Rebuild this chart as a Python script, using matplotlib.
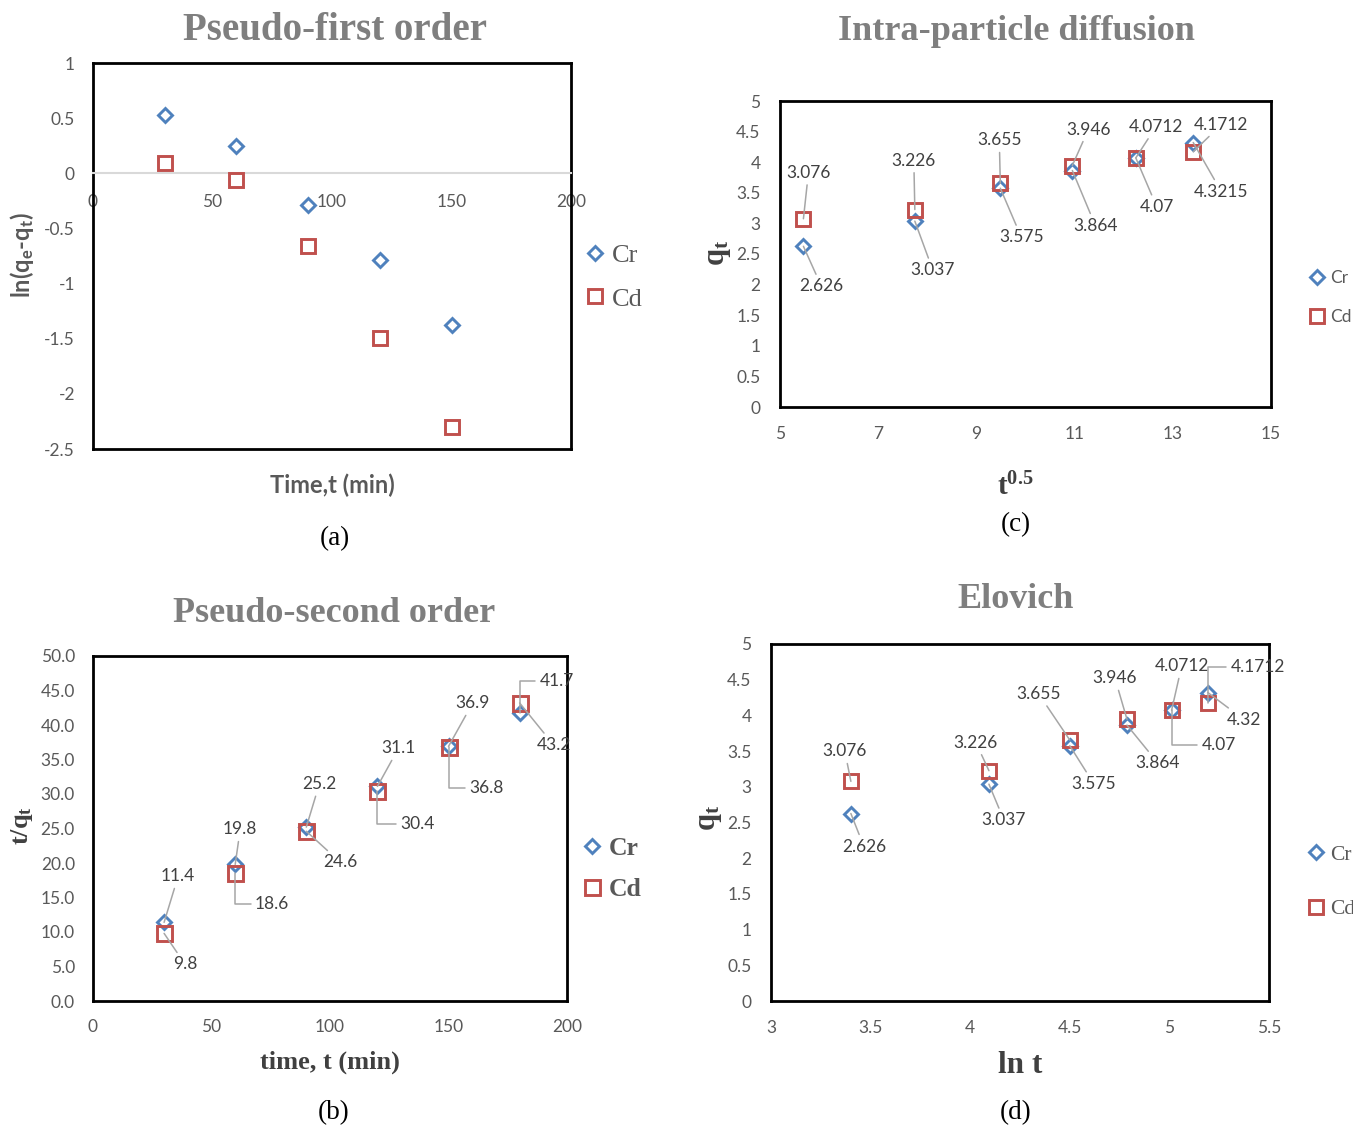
import matplotlib
matplotlib.use("Agg")
import matplotlib.pyplot as plt
from matplotlib.ticker import FormatStrFormatter, MultipleLocator
from matplotlib.lines import Line2D

plt.rcParams['font.family'] = ['Lato', 'DejaVu Sans']
plt.rcParams['axes.unicode_minus'] = False
plt.rcParams['mathtext.default'] = 'regular'

# ---------------- data ----------------
a_time = [30, 60, 90, 120, 150]
a_cr = [0.53, 0.25, -0.29, -0.79, -1.38]
a_cd = [0.09, -0.06, -0.66, -1.49, -2.30]

b_time = [30, 60, 90, 120, 150, 180]
b_cr = [11.4, 19.8, 25.2, 31.1, 36.9, 41.7]
b_cd = [9.8, 18.6, 24.6, 30.4, 36.8, 43.2]

c_sqrt_t = [5.477, 7.746, 9.487, 10.954, 12.247, 13.416]
c_cr = [2.626, 3.037, 3.575, 3.864, 4.07, 4.3215]
c_cd = [3.076, 3.226, 3.655, 3.946, 4.0712, 4.1712]
c_xticks = [5, 7, 9, 11, 13, 15]

d_ln_t = [3.401, 4.094, 4.500, 4.787, 5.011, 5.193]
d_cr = [2.626, 3.037, 3.575, 3.864, 4.07, 4.32]
d_cd = [3.076, 3.226, 3.655, 3.946, 4.0712, 4.1712]

series_names = ['Cr', 'Cd']

# ---------------- label placement (pixel offsets from point) ----------------
b_cr_off = [(14, 46), (5, 35), (13, 43), (21, 38), (24, 43), (37, 32)]
b_cr_elb = [0, 0, 0, 0, 0, 1]
b_cd_off = [(21, -31), (37, -31), (34, -31), (40, -33), (38, -41), (34, -42)]
b_cd_elb = [0, 1, 0, 1, 1, 0]

c_cr_off = [(18, -40), (18, -49), (21, -49), (23, -55), (21, -49), (28, -49)]
c_cd_off = [(5, 46), (-1, 49), (-1, 43), (16, 36), (20, 31), (28, 27)]

d_cr_off = [(13, -33), (15, -36), (24, -38), (31, -38), (47, -35), (36, -27)]
d_cr_elb = [0, 0, 0, 0, 1, 0]
d_cd_off = [(-6, 30), (-13, 28), (-31, 46), (-12, 41), (10, 44), (50, 36)]
d_cd_elb = [0, 0, 0, 0, 0, 1]

W, H = 1353, 1126
fig = plt.figure(figsize=(W / 100, H / 100), dpi=100)
fig.patch.set_facecolor('white')

BLUE = '#4F81BD'
RED = '#C0504D'
TICK_C = '#595959'
LAB_C = '#404040'
TITLE_C = '#7F7F7F'
SERIF = 'Liberation Serif'


def px_axes(x0, y0, x1, y1):
    return fig.add_axes([x0 / W, 1 - y1 / H, (x1 - x0) / W, (y1 - y0) / H])


def style_box(ax, lw=2.0):
    for s in ax.spines.values():
        s.set_color('black')
        s.set_linewidth(lw)
    ax.tick_params(length=0, labelsize=12.5, colors=TICK_C)


def plot_series(ax, x, cr, cd, dms=7.4, sms=10.0):
    ax.plot(x, cr, linestyle='none', marker='D', ms=dms, mfc='none', mec=BLUE,
            mew=2.1, label=series_names[0], clip_on=False, zorder=3)
    ax.plot(x, cd, linestyle='none', marker='s', ms=sms, mfc='none', mec=RED,
            mew=2.1, label=series_names[1], clip_on=False, zorder=3)


def label_points(ax, xs, ys, offs, elbows, fmt):
    for x, y, (dx, dy), el in zip(xs, ys, offs, elbows):
        props = dict(arrowstyle='-', color='#A6A6A6', lw=1.1, shrinkA=1, shrinkB=0)
        if el:
            props.update(connectionstyle='angle,angleA=0,angleB=90,rad=0', relpos=(0, 0.5))
        ax.annotate(fmt % y, (x, y), xytext=(dx, dy), textcoords='offset pixels',
                    ha='center', va='center', fontsize=12.5, color=LAB_C,
                    arrowprops=props, annotation_clip=False, zorder=4)


def add_legend(ax, anchor, fontsize, spacing, handlelength, family, weight='normal'):
    leg = ax.legend(loc='center left', bbox_to_anchor=anchor, frameon=False,
                    labelspacing=spacing, handlelength=handlelength,
                    handletextpad=0.25, borderpad=0, borderaxespad=0,
                    prop=dict(family=family, size=fontsize, weight=weight))
    for t in leg.get_texts():
        t.set_color(TICK_C)
    return leg


# ================= (a) Pseudo-first order =================
ax = px_axes(93, 63, 571, 449)
plot_series(ax, a_time, a_cr, a_cd)
ax.set_xlim(0, 200)
ax.set_ylim(-2.5, 1)
ax.xaxis.set_major_locator(MultipleLocator(50))
ax.yaxis.set_major_locator(MultipleLocator(0.5))
ax.yaxis.set_major_formatter(FormatStrFormatter('%g'))
style_box(ax)
ax.spines['bottom'].set_position(('data', 0))
ax.spines['bottom'].set_color('#D9D9D9')
ax.spines['bottom'].set_linewidth(1.5)
ax.plot([0, 1], [0, 0], transform=ax.transAxes, color='black', lw=2.0, clip_on=False)
ax.tick_params(axis='y', pad=13)
ax.tick_params(axis='x', pad=15)
ax.set_xlabel('Time,t (min)', fontsize=17, fontweight='bold', color=TICK_C, va='center')
ax.xaxis.set_label_coords(0.5, -0.093)
ax.set_ylabel('ln(q$_{e}$-q$_{t}$)', fontsize=17, fontweight='bold', color=TICK_C,
              va='center', ha='center')
ax.yaxis.set_label_coords(-0.149, 0.503)
add_legend(ax, (1.028, 0.445), 19, 0.75, 0.8, SERIF)

# ================= (b) Pseudo-second order =================
ax = px_axes(93, 656, 567, 1001)
plot_series(ax, b_time, b_cr, b_cd, dms=7.4, sms=10.8)
ax.set_xlim(0, 200)
ax.set_ylim(0, 50)
ax.xaxis.set_major_locator(MultipleLocator(50))
ax.yaxis.set_major_locator(MultipleLocator(5))
ax.yaxis.set_major_formatter(FormatStrFormatter('%.1f'))
style_box(ax)
ax.tick_params(axis='y', pad=13)
ax.tick_params(axis='x', pad=13)
label_points(ax, b_time, b_cr, b_cr_off, b_cr_elb, '%.1f')
label_points(ax, b_time, b_cd, b_cd_off, b_cd_elb, '%.1f')
ax.set_xlabel('time, t (min)', fontsize=19, fontweight='bold', color=LAB_C,
              family=SERIF, va='center')
ax.xaxis.set_label_coords(0.5, -0.177)
ax.set_ylabel('t/q$_{t}$', fontsize=19, fontweight='bold', color=LAB_C, family=SERIF,
              va='center', ha='center')
ax.yaxis.set_label_coords(-0.15, 0.51)
add_legend(ax, (1.031, 0.384), 18.5, 0.7, 0.8, SERIF, weight='bold')

# ================= (c) Intra-particle diffusion =================
ax = px_axes(780, 101, 1271, 407)
plot_series(ax, c_sqrt_t, c_cr, c_cd)
ax.set_xlim(5, 15)
ax.set_ylim(0, 5)
ax.set_xticks(c_xticks)
ax.yaxis.set_major_locator(MultipleLocator(0.5))
ax.yaxis.set_major_formatter(FormatStrFormatter('%g'))
style_box(ax)
ax.tick_params(axis='y', pad=14)
ax.tick_params(axis='x', pad=14)
label_points(ax, c_sqrt_t, c_cr, c_cr_off, [0] * 6, '%g')
label_points(ax, c_sqrt_t, c_cd, c_cd_off, [0] * 6, '%g')
ax.set_xlabel('t$^{0.5}$', fontsize=21, fontweight='bold', color=LAB_C, family=SERIF,
              va='center')
ax.xaxis.set_label_coords(0.479, -0.26)
ax.set_ylabel('q$_{t}$', fontsize=22, fontweight='bold', color=LAB_C, family=SERIF,
              va='center', ha='center')
ax.yaxis.set_label_coords(-0.126, 0.503)
add_legend(ax, (1.077, 0.357), 12.5, 1.3, 1.0, ['Lato', 'DejaVu Sans'])

# ================= (d) Elovich =================
ax = px_axes(771, 644, 1269, 1001)
plot_series(ax, d_ln_t, d_cr, d_cd)
ax.set_xlim(3, 5.5)
ax.set_ylim(0, 5)
ax.xaxis.set_major_locator(MultipleLocator(0.5))
ax.xaxis.set_major_formatter(FormatStrFormatter('%g'))
ax.yaxis.set_major_locator(MultipleLocator(0.5))
ax.yaxis.set_major_formatter(FormatStrFormatter('%g'))
style_box(ax)
ax.tick_params(axis='y', pad=14)
ax.tick_params(axis='x', pad=14)
label_points(ax, d_ln_t, d_cr, d_cr_off, d_cr_elb, '%g')
label_points(ax, d_ln_t, d_cd, d_cd_off, d_cd_elb, '%g')
ax.set_xlabel('ln t', fontsize=22.5, fontweight='bold', color=LAB_C, family=SERIF,
              va='center')
ax.xaxis.set_label_coords(0.5, -0.18)
ax.set_ylabel('q$_{t}$', fontsize=22, fontweight='bold', color=LAB_C, family=SERIF,
              va='center', ha='center')
ax.yaxis.set_label_coords(-0.124, 0.513)
add_legend(ax, (1.077, 0.333), 15.5, 1.6, 0.8, SERIF)

# ---------------- titles & captions ----------------
titles = [('Pseudo-first order', 335, 31, 28), ('Intra-particle diffusion', 1016, 31, 26),
          ('Pseudo-second order', 334, 613, 26), ('Elovich', 1016, 600, 26)]
for txt, x, y, fs in titles:
    fig.text(x / W, 1 - y / H, txt, ha='center', va='center', fontsize=fs,
             fontweight='bold', color=TITLE_C, family=SERIF)

captions = [('(a)', 335, 539), ('(c)', 1016, 525), ('(b)', 334, 1113), ('(d)', 1016, 1113)]
for txt, x, y in captions:
    fig.text(x / W, 1 - y / H, txt, ha='center', va='center', fontsize=19.5,
             color='black', family=SERIF)

fig.savefig('out.png', dpi=100, facecolor='white')
